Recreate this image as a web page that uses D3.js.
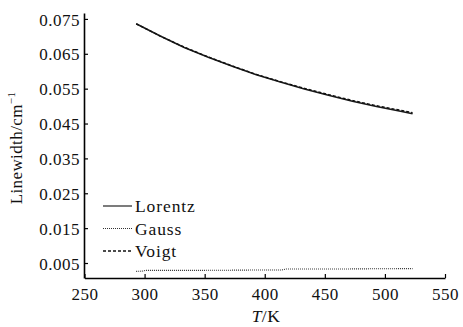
<!DOCTYPE html>
<html>
<head>
<meta charset="utf-8">
<script src="https://cdn.jsdelivr.net/npm/d3@7"></script>
<style>
  body { margin: 0; background: #fff; }
  text { font-family: "Liberation Serif", "DejaVu Serif", serif; }
</style>
</head>
<body>
<div id="chart-area"></div>
<script>
// temperature (K) and linewidth (cm^-1)
var lorentzT = [293, 313, 333, 353, 373, 393, 413, 433, 453, 473, 493, 513, 523];
var lorentzW = [0.0736, 0.0701, 0.0668, 0.0640, 0.0614, 0.0590, 0.0569, 0.0549, 0.0531, 0.0514, 0.0499, 0.0485, 0.0478];
var voigtT = [293, 313, 333, 353, 373, 393, 413, 433, 453, 473, 493, 513, 523];
var voigtW = [0.0736, 0.0701, 0.0669, 0.0641, 0.0615, 0.0591, 0.0570, 0.0551, 0.0533, 0.0516, 0.0501, 0.0488, 0.0481];
var gaussT = [293, 299, 301, 350, 400, 414, 418, 470, 523];
var gaussW = [0.0026, 0.0027, 0.0029, 0.0029, 0.0030, 0.0030, 0.0033, 0.0033, 0.0034];

var xTicks = [250, 300, 350, 400, 450, 500, 550];
var yTicks = [0.005, 0.015, 0.025, 0.035, 0.045, 0.055, 0.065, 0.075];
var seriesNames = ["Lorentz", "Gauss", "Voigt"];

var width = 463, height = 327;

var svg = d3.select("#chart-area")
    .append("svg")
    .attr("width", width)
    .attr("height", height);

var x = d3.scaleLinear().domain([250, 550]).range([84.5, 445]);
var y = d3.scaleLinear().domain([0.0007, 0.0767]).range([278, 13]);

// axes, ticks pointing inwards
var xAxis = svg.append("g")
    .attr("transform", "translate(0,278)")
    .call(d3.axisBottom(x).tickValues(xTicks).tickSizeInner(-4).tickSizeOuter(0).tickPadding(10).tickFormat(d3.format("d")));
var yAxis = svg.append("g")
    .attr("transform", "translate(84,0)")
    .call(d3.axisLeft(y).tickValues(yTicks).tickSizeInner(-4).tickSizeOuter(0).tickPadding(4).tickFormat(d3.format(".3f")));

[xAxis, yAxis].forEach(function (ax) {
    ax.select(".domain").attr("stroke", "#000").attr("stroke-width", 1.6);
    ax.selectAll(".tick line").attr("stroke", "#000").attr("stroke-width", 1.2);
    ax.selectAll(".tick text")
        .attr("fill", "#111")
        .attr("font-size", "17px")
        .attr("letter-spacing", "0.5px")
        .attr("font-family", "Liberation Serif, serif");
});
yAxis.selectAll(".tick text").attr("dy", "0.36em");

var line = d3.line().x(d => x(d[0])).y(d => y(d[1]));

svg.append("path")
    .datum(lorentzT.map((t, i) => [t, lorentzW[i]]))
    .attr("d", line)
    .attr("fill", "none")
    .attr("stroke", "#1a1a1a")
    .attr("stroke-width", 1.6);

svg.append("path")
    .datum(voigtT.map((t, i) => [t, voigtW[i]]))
    .attr("d", line)
    .attr("fill", "none")
    .attr("stroke", "#111")
    .attr("stroke-width", 1.4)
    .attr("stroke-dasharray", "3,2");

svg.append("path")
    .datum(gaussT.map((t, i) => [t, gaussW[i]]))
    .attr("d", line)
    .attr("fill", "none")
    .attr("stroke", "#333")
    .attr("stroke-width", 1.1)
    .attr("stroke-dasharray", "1,1");

// legend
var legendStyles = [
    { dash: null, w: 1.4, c: "#444" },
    { dash: "1,1", w: 1.1, c: "#333" },
    { dash: "3,2", w: 1.4, c: "#111" }
];
var legend = svg.append("g");
seriesNames.forEach(function (name, i) {
    var ly = 206 + i * 22.5;
    legend.append("line")
        .attr("x1", 103).attr("x2", 132)
        .attr("y1", ly).attr("y2", ly)
        .attr("stroke", legendStyles[i].c)
        .attr("stroke-width", legendStyles[i].w)
        .attr("stroke-dasharray", legendStyles[i].dash);
    legend.append("text")
        .attr("x", 135).attr("y", ly + 6)
        .attr("font-size", "17.5px")
        .attr("letter-spacing", "0.9px")
        .attr("fill", "#111")
        .text(name);
});

// axis titles
var xt = svg.append("text")
    .attr("x", 266).attr("y", 322)
    .attr("text-anchor", "middle")
    .attr("font-size", "17.5px")
    .attr("letter-spacing", "0.5px")
    .attr("fill", "#111");
xt.append("tspan").attr("font-style", "italic").text("T");
xt.append("tspan").text("/K");

var yt = svg.append("text")
    .attr("transform", "translate(22,148) rotate(-90)")
    .attr("text-anchor", "middle")
    .attr("font-size", "17px")
    .attr("letter-spacing", "0.4px")
    .attr("fill", "#111");
yt.append("tspan").text("Linewidth/cm");
yt.append("tspan").attr("font-size", "11px").attr("dy", "-7").text("\u22121");
</script>
</body>
</html>
